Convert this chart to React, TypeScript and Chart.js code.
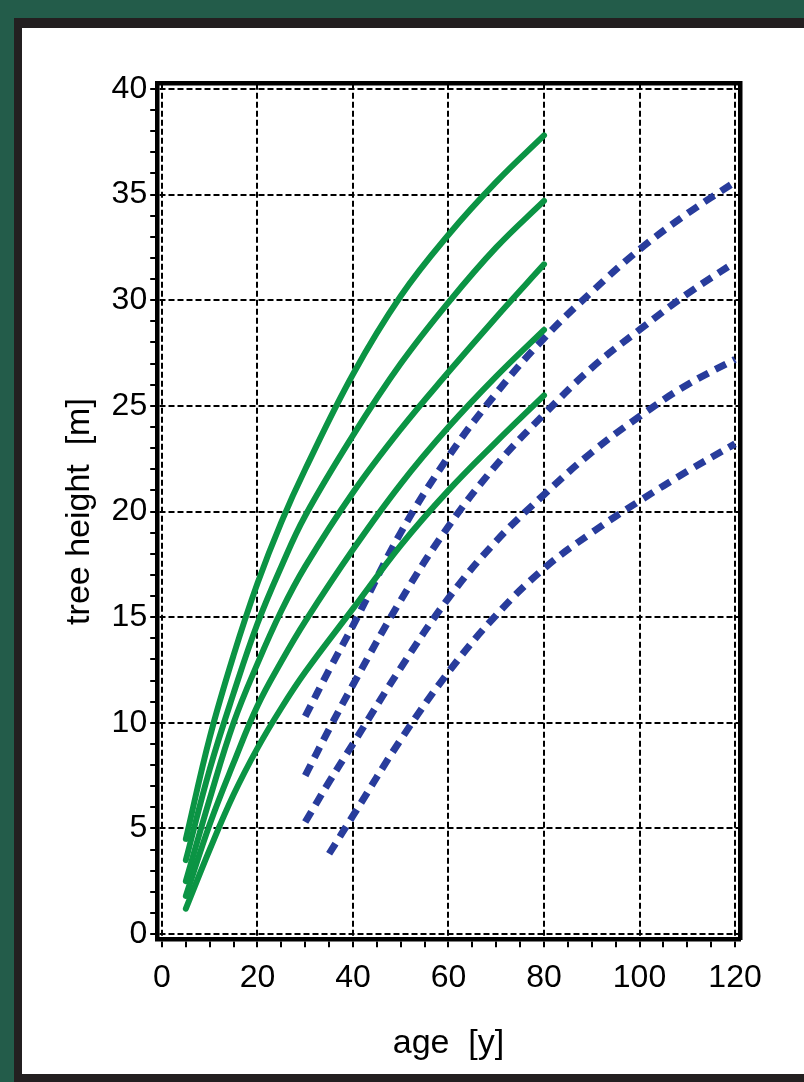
import React, { useEffect, useRef } from 'react';
import { Chart, registerables } from 'chart.js';

Chart.register(...registerables);

// ---- data ----
const greenAges = [5, 10, 15, 20, 25, 30, 40, 50, 60, 70, 80];
const green1 = [4.5, 9.3, 13.2, 16.6, 19.5, 22.0, 26.5, 30.2, 33.1, 35.6, 37.8];
const green2 = [3.5, 7.8, 11.4, 14.7, 17.4, 19.8, 23.6, 27.0, 29.9, 32.5, 34.7];
const green3 = [2.5, 6.4, 10.0, 12.8, 15.3, 17.4, 20.9, 23.9, 26.6, 29.2, 31.7];
const green4 = [1.8, 5.2, 8.1, 10.8, 12.9, 14.8, 18.2, 21.3, 24.0, 26.4, 28.6];
const green5 = [1.2, 4.0, 6.6, 8.8, 10.7, 12.4, 15.4, 18.4, 21.0, 23.3, 25.5];

const blueAges = [30, 35, 40, 50, 60, 70, 80, 90, 100, 110, 120];
const blue1 = [10.3, 12.5, 14.6, 19.0, 22.6, 25.6, 28.2, 30.4, 32.4, 34.1, 35.6];
const blue2 = [7.5, 9.7, 11.8, 15.8, 19.3, 22.2, 24.6, 26.8, 28.6, 30.3, 31.8];
const blue3 = [5.3, 7.2, 9.0, 12.6, 15.9, 18.6, 20.8, 22.8, 24.5, 26.0, 27.2];
const blue4Ages = [35, 40, 50, 60, 70, 80, 90, 100, 110, 120];
const blue4 = [3.8, 5.6, 9.2, 12.4, 15.1, 17.3, 19.0, 20.5, 21.9, 23.2];

const xLabels = [0, 20, 40, 60, 80, 100, 120];
const yLabels = [0, 5, 10, 15, 20, 25, 30, 35, 40];
const xMinorTicks = Array.from({ length: 25 }, (_, i) => i * 5);
const yMinorTicks = Array.from({ length: 41 }, (_, i) => i);

const xTitle = 'age  [y]';
const yTitle = 'tree height  [m]';

// ---- styles ----
const GREEN = '#0B9444';
const BLUE = '#283C9C';
const FONT = "'Liberation Sans', Arial, Helvetica, sans-serif";

const greenSeries = [green1, green2, green3, green4, green5];
const blueSeries = [
  { ages: blueAges, vals: blue1 },
  { ages: blueAges, vals: blue2 },
  { ages: blueAges, vals: blue3 },
  { ages: blue4Ages, vals: blue4 },
];

export default function App() {
  const ref = useRef<HTMLCanvasElement>(null);

  useEffect(() => {
    if (!ref.current) return;
    const datasets: any[] = [
      ...greenSeries.map((vals) => ({
        data: greenAges.map((a, i) => ({ x: a, y: vals[i] })),
        borderColor: GREEN,
        borderWidth: 6,
        pointRadius: 0,
        tension: 0.4,
        borderCapStyle: 'round',
        fill: false,
        xAxisID: 'x',
        yAxisID: 'y',
      })),
      ...blueSeries.map((s) => ({
        data: s.ages.map((a, i) => ({ x: a, y: s.vals[i] })),
        borderColor: BLUE,
        borderWidth: 7,
        borderDash: [12, 8],
        pointRadius: 0,
        tension: 0.4,
        borderCapStyle: 'butt',
        fill: false,
        xAxisID: 'x',
        yAxisID: 'y',
      })),
    ];

    const chart = new Chart(ref.current, {
      type: 'line',
      data: { datasets },
      options: {
        animation: false,
        responsive: false,
        events: [],
        layout: { padding: { left: 0, top: 83.7, right: 64.2, bottom: 0 } },
        plugins: { legend: { display: false }, tooltip: { enabled: false } },
        scales: {
          x: {
            type: 'linear',
            position: 'bottom',
            min: -1,
            max: 121,
            afterBuildTicks: (s: any) => {
              s.ticks = xMinorTicks.map((v) => ({ value: v }));
            },
            afterFit: (s: any) => {
              s.height = 142.7;
            },
            ticks: {
              autoSkip: false,
              maxRotation: 0,
              padding: 12,
              color: '#000',
              font: { family: FONT, size: 32 },
              callback: (v: any) => (xLabels.includes(Number(v)) ? String(v) : ''),
            },
            grid: {
              color: (c: any) => (c.tick && c.tick.value % 20 === 0 ? '#000' : 'rgba(0,0,0,0)'),
              lineWidth: 2,
              tickLength: 8,
              tickColor: '#000',
              tickWidth: 2,
              tickBorderDash: [],
            },
            border: { display: true, color: '#000', width: 4.5, dash: [6, 3] },
            title: {
              display: true,
              text: xTitle,
              color: '#000',
              font: { family: FONT, size: 34 },
              padding: { top: 0, bottom: 18 },
            },
          },
          x2: {
            type: 'linear',
            position: 'top',
            min: -1,
            max: 121,
            ticks: { display: false },
            grid: { display: false, drawTicks: false },
            border: { display: true, color: '#000', width: 4.5 },
            afterFit: (s: any) => {
              s.height = 0;
            },
          },
          y: {
            type: 'linear',
            position: 'left',
            min: -0.25,
            max: 40.25,
            afterBuildTicks: (s: any) => {
              s.ticks = yMinorTicks.map((v) => ({ value: v }));
            },
            afterFit: (s: any) => {
              s.width = 157.2;
            },
            ticks: {
              autoSkip: false,
              padding: 3,
              color: '#000',
              font: { family: FONT, size: 32 },
              callback: (v: any) => (yLabels.includes(Number(v)) ? String(v) : ''),
            },
            grid: {
              color: (c: any) => (c.tick && c.tick.value % 5 === 0 ? '#000' : 'rgba(0,0,0,0)'),
              lineWidth: 2,
              tickLength: 7,
              tickColor: '#000',
              tickWidth: 2,
              tickBorderDash: [],
            },
            border: { display: true, color: '#000', width: 4.5, dash: [6, 3] },
            title: {
              display: true,
              text: yTitle,
              color: '#000',
              font: { family: FONT, size: 34 },
              padding: { top: 59, bottom: 0 },
            },
          },
          y2: {
            type: 'linear',
            position: 'right',
            min: -0.25,
            max: 40.25,
            ticks: { display: false },
            grid: { display: false, drawTicks: false },
            border: { display: true, color: '#000', width: 4.5 },
            afterFit: (s: any) => {
              s.width = 0;
            },
          },
        },
      } as any,
    });
    return () => chart.destroy();
  }, []);

  return (
    <div
      style={{
        position: 'fixed',
        left: 0,
        top: 0,
        width: 804,
        height: 1082,
        background: '#235C4A',
        overflow: 'hidden',
      }}
    >
      <div style={{ position: 'absolute', left: 14, top: 18, width: 790, height: 1064, background: '#231F20' }} />
      <div style={{ position: 'absolute', left: 22, top: 28, width: 782, height: 1046, background: '#FFFFFF' }} />
      <canvas ref={ref} width={804} height={1082} style={{ position: 'absolute', left: 0, top: 0 }} />
    </div>
  );
}
